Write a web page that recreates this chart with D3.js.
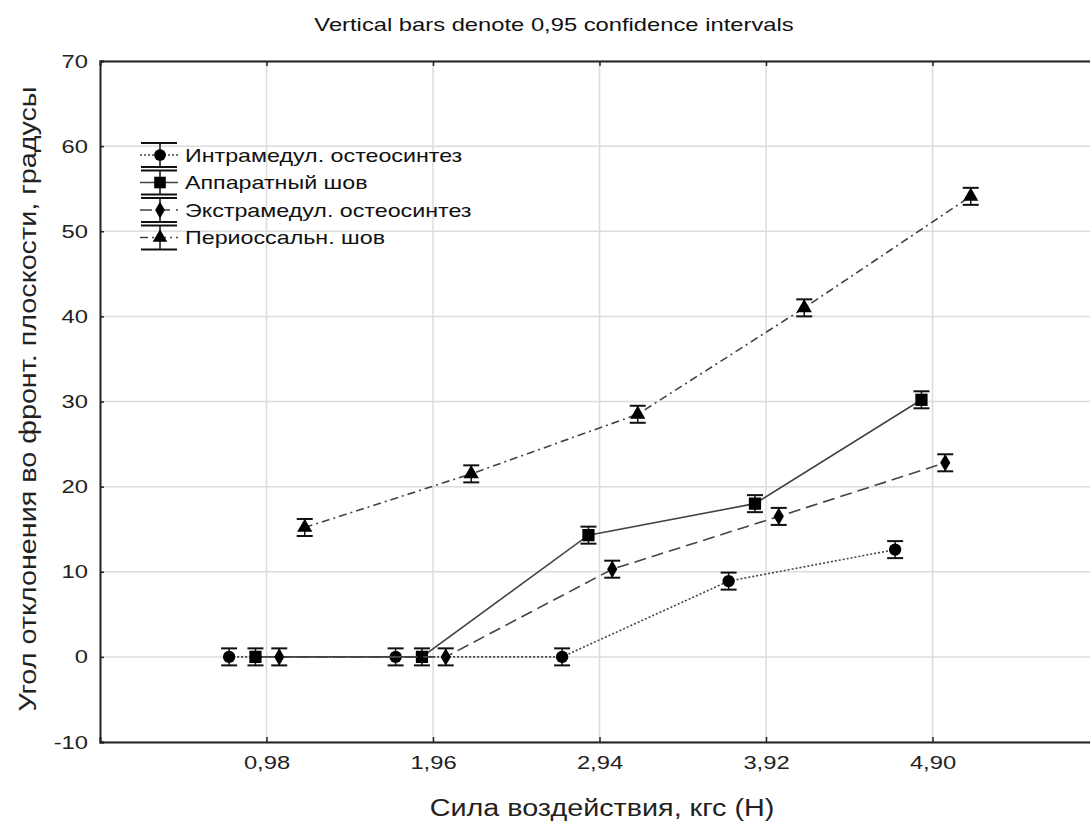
<!DOCTYPE html>
<html>
<head>
<meta charset="utf-8">
<script src="https://cdn.jsdelivr.net/npm/d3@7"></script>
<style>
  body { margin: 0; background: #fff; }
  text { font-family: "Liberation Sans", Arial, sans-serif; }
</style>
</head>
<body>
<div id="chart"></div>
<script>
// x categories (force, kgf) and series means
const forceTicks = [0.98, 1.96, 2.94, 3.92, 4.90];
const forceLabels = ["0,98", "1,96", "2,94", "3,92", "4,90"];
const yTicks = [-10, 0, 10, 20, 30, 40, 50, 60, 70];

const intramedValues = [0, 0, 0, 8.9, 12.6];
const apparatValues = [0, 0, 14.3, 18.0, 30.2];
const extramedValues = [0, 0, 10.3, 16.5, 22.8];
const periostValues = [15.2, 21.5, 28.5, 41.0, 54.1];
const ciHalf = [1, 1, 1, 1, 1];

const seriesNames = ["Интрамедул. остеосинтез", "Аппаратный шов", "Экстрамедул. остеосинтез", "Периоссальн. шов"];

const width = 1090, height = 825;
const margin = {top: 61, left: 100, bottom: 83};
const stretch = 1.25; // the reference text is drawn wide

const svg = d3.select("#chart").append("svg")
    .attr("width", width)
    .attr("height", height);

const x = d3.scaleLinear().domain([0, 5.88]).range([margin.left, margin.left + 999]);
const y = d3.scaleLinear().domain([-10, 70]).range([height - margin.bottom, margin.top]);

// widen a text node horizontally
function widen(sel, factor) {
    sel.each(function() {
        const w = this.getComputedTextLength();
        d3.select(this).attr("textLength", w * factor).attr("lengthAdjust", "spacingAndGlyphs");
    });
}

// series styles; shift = horizontal offset so the bars don't overlap
const series = [
    {name: seriesNames[0], values: intramedValues, shift: -0.22, dash: "2,2", marker: "circle"},
    {name: seriesNames[1], values: apparatValues, shift: -0.065, dash: null, marker: "square"},
    {name: seriesNames[2], values: extramedValues, shift: 0.075, dash: "12,6", marker: "diamond"},
    {name: seriesNames[3], values: periostValues, shift: 0.225, dash: "8,4,2,4", marker: "triangle"}
];

const symbolTypes = {
    circle: [d3.symbolCircle, 120],
    square: [d3.symbolSquare, 150],
    diamond: [d3.symbolDiamond, 90],
    triangle: [d3.symbolTriangle, 100]
};

// grid
svg.append("g").selectAll("line").data(yTicks)
    .enter().append("line")
    .attr("x1", margin.left).attr("x2", width)
    .attr("y1", d => y(d)).attr("y2", d => y(d))
    .attr("stroke", "#dcdcdc").attr("stroke-width", 1.5);

svg.append("g").selectAll("line").data(forceTicks)
    .enter().append("line")
    .attr("x1", d => x(d)).attr("x2", d => x(d))
    .attr("y1", y(70)).attr("y2", y(-10))
    .attr("stroke", "#dcdcdc").attr("stroke-width", 1.5);

// axes
const yAxis = d3.axisLeft(y).tickValues(yTicks).tickFormat(d => String(d)).tickSize(-4).tickPadding(12);
const gy = svg.append("g")
    .attr("transform", "translate(" + margin.left + ",0)")
    .call(yAxis);

const xAxis = d3.axisBottom(x).tickValues(forceTicks).tickFormat((d, i) => forceLabels[i]).tickSize(-5).tickPadding(14);
const gx = svg.append("g")
    .attr("transform", "translate(0," + y(-10) + ")")
    .call(xAxis);

const xTop = d3.axisTop(x).tickValues(forceTicks).tickFormat("").tickSize(-5);
const gt = svg.append("g")
    .attr("transform", "translate(0," + y(70) + ")")
    .call(xTop);

[gx, gy, gt].forEach(g => {
    g.attr("font-family", null).attr("font-size", null);
    g.select(".domain").attr("stroke", "#222").attr("stroke-width", 2);
    g.selectAll(".tick line").attr("stroke", "#222").attr("stroke-width", 1.5);
    g.selectAll(".tick text").attr("font-size", 19).attr("fill", "#222")
        .call(widen, stretch);
});

// lines, error bars, markers
const line = d3.line()
    .x(d => x(d.x))
    .y(d => y(d.y));

series.forEach(s => {
    const pts = s.values.map((v, i) => ({x: forceTicks[i] + s.shift, y: v, e: ciHalf[i]}));
    const g = svg.append("g");

    g.append("path")
        .datum(pts)
        .attr("d", line)
        .attr("fill", "none")
        .attr("stroke", "#444")
        .attr("stroke-width", 1.6)
        .attr("stroke-dasharray", s.dash);

    const bars = g.selectAll(".bar").data(pts).enter().append("g");
    bars.append("line")
        .attr("x1", d => x(d.x)).attr("x2", d => x(d.x))
        .attr("y1", d => y(d.y - d.e)).attr("y2", d => y(d.y + d.e))
        .attr("stroke", "#111").attr("stroke-width", 1.5);
    [-1, 1].forEach(sign => {
        bars.append("line")
            .attr("x1", d => x(d.x) - 8).attr("x2", d => x(d.x) + 8)
            .attr("y1", d => y(d.y + sign * d.e)).attr("y2", d => y(d.y + sign * d.e))
            .attr("stroke", "#111").attr("stroke-width", 2);
    });

    const st = symbolTypes[s.marker];
    g.selectAll(".mk").data(pts).enter().append("path")
        .attr("d", d3.symbol().type(st[0]).size(st[1]))
        .attr("transform", d => "translate(" + x(d.x) + "," + y(d.y) + ")")
        .attr("fill", "#000");
});

// legend
const legend = svg.append("g").attr("transform", "translate(140,155)");
series.forEach((s, i) => {
    const row = legend.append("g").attr("transform", "translate(0," + (i * 27.5) + ")");
    row.append("line")
        .attr("x1", 0).attr("x2", 38).attr("y1", 0).attr("y2", 0)
        .attr("stroke", "#444").attr("stroke-width", 1.6)
        .attr("stroke-dasharray", s.dash);
    row.append("line")
        .attr("x1", 20).attr("x2", 20).attr("y1", -12).attr("y2", 12)
        .attr("stroke", "#111").attr("stroke-width", 1.5);
    [-12, 12].forEach(dy => {
        row.append("line")
            .attr("x1", 1).attr("x2", 37).attr("y1", dy).attr("y2", dy)
            .attr("stroke", "#111").attr("stroke-width", 2);
    });
    const st = symbolTypes[s.marker];
    row.append("path")
        .attr("d", d3.symbol().type(st[0]).size(st[1] * 0.9))
        .attr("transform", "translate(20,0)")
        .attr("fill", "#000");
    row.append("text")
        .attr("x", 45).attr("y", 6.5)
        .attr("font-size", 18.6).attr("fill", "#111")
        .text(s.name)
        .call(widen, stretch);
});

// titles
svg.append("text")
    .attr("x", 554).attr("y", 31)
    .attr("text-anchor", "middle")
    .attr("font-size", 19).attr("fill", "#111")
    .text("Vertical bars denote 0,95 confidence intervals")
    .call(widen, stretch);

svg.append("text")
    .attr("x", 602).attr("y", 816)
    .attr("text-anchor", "middle")
    .attr("font-size", 23).attr("fill", "#222")
    .text("Сила воздействия, кгс (Н)")
    .call(widen, stretch);

svg.append("text")
    .attr("transform", "translate(36,399) rotate(-90)")
    .attr("text-anchor", "middle")
    .attr("font-size", 23).attr("fill", "#222")
    .text("Угол отклонения во фронт. плоскости, градусы")
    .call(widen, stretch);
</script>
</body>
</html>
